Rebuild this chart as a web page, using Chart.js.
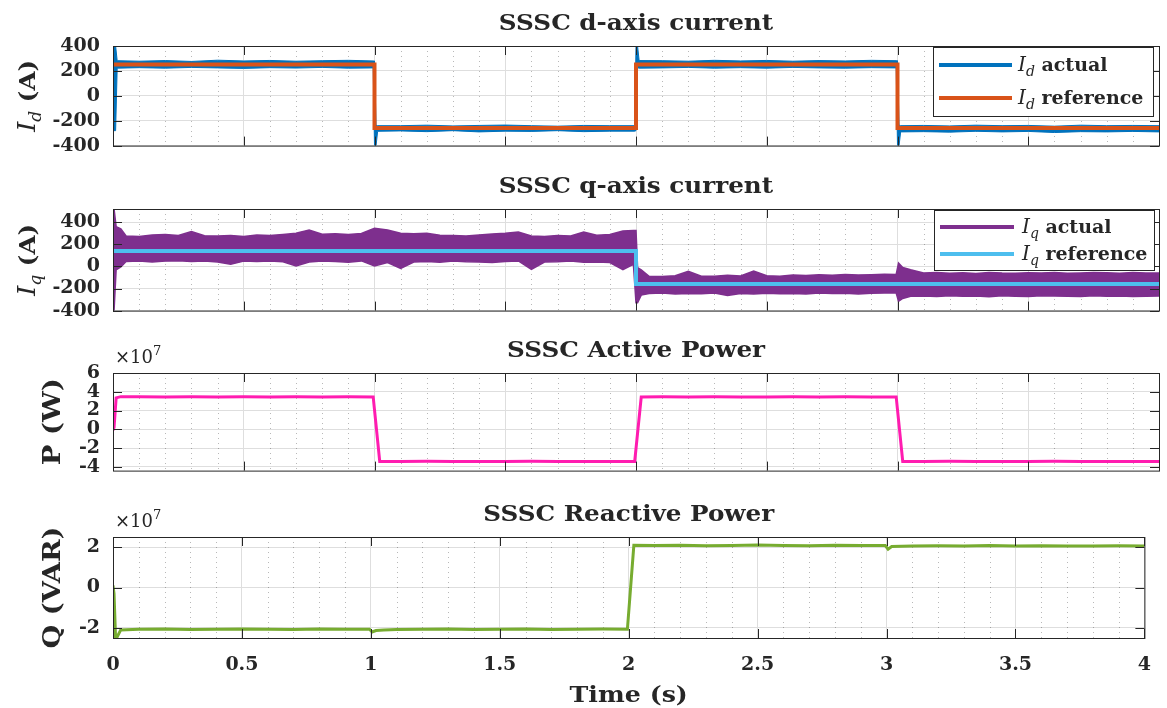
<!DOCTYPE html>
<html>
<head>
<meta charset="utf-8">
<title>SSSC currents and power</title>
<script src="https://cdn.jsdelivr.net/npm/chart.js@4.4.1/dist/chart.umd.min.js"></script>
<style>
body { margin: 0; background: #fff; }
#fig { position: relative; width: 1167px; height: 708px; }
#fig canvas { position: absolute; left: 0; }
</style>
</head>
<body>
<div id="fig">
  <canvas id="id_panel" width="1167" height="170" style="top:0px"></canvas>
  <canvas id="iq_panel" width="1167" height="165" style="top:170px"></canvas>
  <canvas id="p_panel" width="1167" height="160" style="top:335px"></canvas>
  <canvas id="q_panel" width="1167" height="213" style="top:495px"></canvas>
</div>
<script>
// time axis (s)
const timeTicks = [0, 0.5, 1, 1.5, 2, 2.5, 3, 3.5, 4]

// ---- d-axis current (A)
const idTicks = [-400, -200, 0, 200, 400]
const idRefT = [0, 1, 1, 2, 2, 3, 3, 4]
const idRefV = [252, 252, -258, -258, 252, 252, -258, -258]
// actual current drawn as upper / lower edge of the noisy trace
const idActT = [0, 0.01, 0.016, 0.1, 0.2, 0.3, 0.4, 0.5, 0.6, 0.7, 0.8, 0.9,
    0.995, 1.0, 1.006, 1.012, 1.1, 1.2, 1.3, 1.4, 1.5, 1.6, 1.7, 1.8, 1.9,
    1.995, 2.0, 2.006, 2.012, 2.1, 2.2, 2.3, 2.4, 2.5, 2.6, 2.7, 2.8, 2.9,
    2.995, 3.0, 3.006, 3.012, 3.1, 3.2, 3.3, 3.4, 3.5, 3.6, 3.7, 3.8, 3.9, 4.0]
const idActHi = [400, 400, 282, 278, 283, 276, 286, 280, 284, 278, 282, 285,
    280, 280, -238, -240, -240, -236, -242, -238, -235, -240, -244, -238, -240,
    -240, 400, 400, 283, 282, 278, 285, 280, 284, 278, 283, 280, 285,
    282, 282, -236, -240, -238, -242, -236, -240, -238, -244, -236, -240, -238, -240]
const idActLo = [-280, -280, 222, 226, 222, 228, 224, 220, 226, 223, 228, 222,
    224, -400, -400, -285, -282, -288, -280, -290, -284, -286, -280, -288, -284,
    -284, -280, 226, 222, 224, 228, 222, 226, 222, 228, 224, 222, 226,
    224, -400, -400, -290, -288, -292, -285, -290, -286, -295, -288, -290, -286, -290]

// ---- q-axis current (A)
const iqTicks = [-400, -200, 0, 200, 400]
const iqRefT = [0, 2, 2, 4]
const iqRefV = [140, 140, -160, -160]
const iqActT = [0, 0.004, 0.012, 0.03,
    0.05, 0.1, 0.15, 0.2, 0.25, 0.3, 0.35, 0.4, 0.45, 0.5, 0.55, 0.6, 0.65, 0.7, 0.75, 0.8, 0.85, 0.9, 0.95,
    1.0, 1.05, 1.1, 1.15, 1.2, 1.25, 1.3, 1.35, 1.4, 1.45, 1.5, 1.55, 1.6, 1.65, 1.7, 1.75, 1.8, 1.85, 1.9, 1.95,
    1.99, 2.0, 2.006, 2.02,
    2.05, 2.1, 2.15, 2.2, 2.25, 2.3, 2.35, 2.4, 2.45, 2.5, 2.55, 2.6, 2.65, 2.7, 2.75, 2.8, 2.85, 2.9, 2.95,
    2.995, 3.004, 3.02,
    3.05, 3.1, 3.15, 3.2, 3.25, 3.3, 3.35, 3.4, 3.45, 3.5, 3.55, 3.6, 3.65, 3.7, 3.75, 3.8, 3.85, 3.9, 3.95, 4.0]
const iqActHi = [520, 520, 360, 340,
    275, 270, 285, 290, 280, 315, 278, 275, 280, 272, 285, 280, 290, 300, 330, 292, 295, 290, 298,
    345, 330, 300, 295, 300, 282, 280, 276, 285, 294, 300, 312, 275, 272, 280, 276, 312, 282, 290, 320,
    325, 325, -10, -30,
    -90, -92, -85, -45, -88, -90, -80, -86, -42, -85, -90, -78, -82, -75, -80, -72, -78, -75, -70,
    -72, 30, -10,
    -30, -60, -55, -62, -58, -65, -55, -60, -62, -58, -60, -55, -62, -60, -56, -58, -62, -55, -60, -60]
const iqActLo = [-400, -400, -30, -5,
    45, 50, 40, 48, 52, 45, 50, 40, 20, 48, 45, 50, 42, 5, 40, 48, 45, 38, 50,
    5, 35, -18, 40, 45, 38, 50, 42, 40, 35, 45, 50, -26, 40, 42, 48, 38, 40, 35, -30,
    20, -330, -330, -260,
    -245, -240, -250, -245, -248, -240, -263, -245, -250, -242, -248, -245, -250, -240, -246, -244, -250, -242, -240,
    -240, -315, -290,
    -270, -268, -272, -265, -270, -268, -275, -266, -270, -272, -265, -268, -270, -272, -266, -270, -268, -272, -270, -268]

// ---- active power, in units of 1e7 W
const pTicks = [-4, -2, 0, 2, 4, 6]
const pT = [0, 0.004, 0.012, 0.03, 0.1, 0.2, 0.3, 0.4, 0.5, 0.6, 0.7, 0.8, 0.9,
    0.995, 1.02, 1.1, 1.2, 1.3, 1.4, 1.5, 1.6, 1.7, 1.8, 1.9,
    1.995, 2.02, 2.1, 2.2, 2.3, 2.4, 2.5, 2.6, 2.7, 2.8, 2.9,
    2.995, 3.02, 3.1, 3.2, 3.3, 3.4, 3.5, 3.6, 3.7, 3.8, 3.9, 4.0]
const pV = [-0.1, 0.2, 3.35, 3.48, 3.47, 3.44, 3.46, 3.45, 3.47, 3.44, 3.46, 3.45, 3.47,
    3.45, -3.42, -3.43, -3.41, -3.44, -3.42, -3.43, -3.41, -3.44, -3.42, -3.43,
    -3.42, 3.44, 3.46, 3.44, 3.47, 3.45, 3.44, 3.46, 3.45, 3.47, 3.44,
    3.45, -3.42, -3.43, -3.41, -3.44, -3.42, -3.43, -3.41, -3.44, -3.42, -3.43, -3.42]

// ---- reactive power, in units of 1e7 VAR
const qTicks = [-2, 0, 2]
const qT = [0, 0.004, 0.01, 0.016, 0.03, 0.1, 0.2, 0.3, 0.4, 0.5, 0.6, 0.7, 0.8, 0.9,
    0.995, 1.005, 1.02, 1.05, 1.1, 1.2, 1.3, 1.4, 1.5, 1.6, 1.7, 1.8, 1.9,
    1.995, 2.02, 2.1, 2.2, 2.3, 2.4, 2.5, 2.6, 2.7, 2.8, 2.9,
    2.995, 3.006, 3.02, 3.1, 3.2, 3.3, 3.4, 3.5, 3.6, 3.7, 3.8, 3.9, 4.0]
const qV = [0.1, -0.3, -2.5, -2.45, -2.1, -2.07, -2.06, -2.08, -2.07, -2.05, -2.07, -2.08, -2.06, -2.07,
    -2.07, -2.2, -2.13, -2.1, -2.08, -2.07, -2.06, -2.08, -2.07, -2.06, -2.08, -2.07, -2.06,
    -2.07, 2.09, 2.08, 2.09, 2.07, 2.08, 2.1, 2.08, 2.07, 2.09, 2.08,
    2.08, 1.9, 2.03, 2.06, 2.07, 2.06, 2.08, 2.06, 2.07, 2.05, 2.06, 2.07, 2.06]

// styles
const SERIF = '"DejaVu Serif", "Liberation Serif", serif'
const TEXT_COLOR = '#262626'
const AXIS_COLOR = '#262626'
const GRID_COLOR = '#dedede'
const MINOR_COLOR = 'rgba(0,0,0,0.28)'
const TICK_LEN = 9
const TICK_FONT = { family: SERIF, size: 19, weight: 'bold' }
// the original uses a wide LaTeX font, so custom text is stretched a little
const TITLE_STRETCH = 1.12

function pts(ts, vs) {
    return ts.map(function(t, i) { return { x: t, y: vs[i] } })
}

// sub-scripted math label like I_d
function mathParts(sym, sub, rest, size) {
    return [
        { text: sym, font: 'italic ' + size + 'px ' + SERIF },
        { text: sub, font: 'italic ' + Math.round(size * 0.68) + 'px ' + SERIF, dy: Math.round(size * 0.25) },
        { text: rest, font: 'bold ' + (size - 1) + 'px ' + SERIF }
    ]
}

function partsWidth(ctx, parts) {
    var w = 0
    parts.forEach(function(p) { ctx.font = p.font; w += ctx.measureText(p.text).width })
    return w
}

function drawParts(ctx, parts, x, y, align) {
    var w = partsWidth(ctx, parts)
    var cx = align === 'center' ? x - w / 2 : x
    ctx.textAlign = 'left'
    ctx.textBaseline = 'alphabetic'
    parts.forEach(function(p) {
        ctx.font = p.font
        ctx.fillText(p.text, cx, y + (p.dy || 0))
        cx += ctx.measureText(p.text).width
    })
}

// draws parts centred at (x, y) and stretched along the text direction
function drawStretched(ctx, parts, x, y, sx) {
    ctx.save()
    ctx.translate(x, y)
    ctx.scale(sx, 1)
    drawParts(ctx, parts, 0, 0, 'center')
    ctx.restore()
}

// per canvas decorations (titles, labels, legend)
const DECO = {}

const panelFrame = {
    id: 'panelFrame',
    beforeDatasetsDraw(chart) {
        // dotted minor grid every 0.1 s
        const ctx = chart.ctx, a = chart.chartArea, x = chart.scales.x
        ctx.save()
        ctx.strokeStyle = MINOR_COLOR
        ctx.lineWidth = 1
        ctx.setLineDash([1, 4])
        for (var k = 1; k < 40; k++) {
            if (k % 5 === 0) continue
            var px = Math.round(x.getPixelForValue(k / 10)) + 0.5
            ctx.beginPath()
            ctx.moveTo(px, a.top)
            ctx.lineTo(px, a.bottom)
            ctx.stroke()
        }
        ctx.restore()
    },
    afterDatasetsDraw(chart) {
        // box with inward ticks on all sides
        const ctx = chart.ctx, a = chart.chartArea
        const d = DECO[chart.canvas.id]
        ctx.save()
        ctx.strokeStyle = AXIS_COLOR
        ctx.lineWidth = 1
        ctx.strokeRect(a.left + 0.5, a.top + 0.5, a.right - a.left, a.bottom - a.top)
        ctx.beginPath()
        timeTicks.forEach(function(v) {
            var px = Math.round(chart.scales.x.getPixelForValue(v)) + 0.5
            ctx.moveTo(px, a.bottom); ctx.lineTo(px, a.bottom - TICK_LEN)
            ctx.moveTo(px, a.top); ctx.lineTo(px, a.top + TICK_LEN)
        })
        d.yTicks.forEach(function(v) {
            var py = Math.round(chart.scales.y.getPixelForValue(v)) + 0.5
            ctx.moveTo(a.left, py); ctx.lineTo(a.left + TICK_LEN, py)
            ctx.moveTo(a.right, py); ctx.lineTo(a.right - TICK_LEN, py)
        })
        ctx.stroke()
        ctx.restore()
    },
    afterDraw(chart) {
        const ctx = chart.ctx, a = chart.chartArea
        const d = DECO[chart.canvas.id]
        const midX = (a.left + a.right) / 2
        ctx.save()
        ctx.fillStyle = TEXT_COLOR
        // title
        drawStretched(ctx, [{ text: d.title, font: 'bold 22px ' + SERIF }], midX, a.top - 16, TITLE_STRETCH)
        // y label, rotated and stretched to its length in the original
        ctx.save()
        ctx.translate(d.ylabelX, (a.top + a.bottom) / 2)
        ctx.rotate(-Math.PI / 2)
        drawStretched(ctx, d.ylabel, 0, 8, d.ylabelLen / partsWidth(ctx, d.ylabel))
        ctx.restore()
        // exponent above the axis
        if (d.exponent) {
            drawParts(ctx, [
                { text: '\u00d710', font: '18px ' + SERIF },
                { text: '7', font: '13px ' + SERIF, dy: -8 }
            ], a.left + 2, a.top - 10, 'left')
        }
        if (d.xlabel) {
            drawStretched(ctx, [{ text: d.xlabel, font: 'bold 23px ' + SERIF }], midX, a.bottom + 64, 1.1)
        }
        if (d.legend) {
            const lg = d.legend
            ctx.fillStyle = '#fff'
            ctx.fillRect(lg.x, lg.y, lg.w, lg.h)
            ctx.strokeStyle = AXIS_COLOR
            ctx.lineWidth = 1
            ctx.strokeRect(lg.x + 0.5, lg.y + 0.5, lg.w, lg.h)
            lg.items.forEach(function(item) {
                ctx.strokeStyle = item.color
                ctx.lineWidth = 4
                ctx.beginPath()
                ctx.moveTo(lg.lineX0, item.y)
                ctx.lineTo(lg.lineX1, item.y)
                ctx.stroke()
                ctx.fillStyle = TEXT_COLOR
                drawParts(ctx, item.parts, lg.textX, item.y + 6, 'left')
            })
        }
        ctx.restore()
    }
}

function makePanel(canvasId, p) {
    DECO[canvasId] = p.deco
    p.deco.yTicks = p.yTicks
    return new Chart(document.getElementById(canvasId), {
        type: 'line',
        data: { datasets: p.datasets },
        plugins: [panelFrame],
        options: {
            responsive: false,
            animation: false,
            events: [],
            layout: { autoPadding: false, padding: { left: 0, right: 8, top: p.plotTop, bottom: 0 } },
            elements: { point: { radius: 0 }, line: { tension: 0 } },
            scales: {
                x: {
                    type: 'linear', min: 0, max: 4,
                    afterBuildTicks: function(s) { s.ticks = timeTicks.map(function(v) { return { value: v } }) },
                    afterFit: function(s) { s.height = p.xHeight },
                    grid: { color: GRID_COLOR, drawTicks: false },
                    border: { display: false },
                    ticks: {
                        display: !!p.showX, autoSkip: false, maxRotation: 0, padding: 16,
                        color: TEXT_COLOR, font: TICK_FONT,
                        callback: function(v) { return String(v) }
                    }
                },
                y: {
                    type: 'linear', min: p.yMin, max: p.yMax,
                    afterBuildTicks: function(s) { s.ticks = p.yTicks.map(function(v) { return { value: v } }) },
                    afterFit: function(s) { s.width = 113 },
                    grid: { color: GRID_COLOR, drawTicks: false },
                    border: { display: false },
                    ticks: {
                        autoSkip: false, padding: 13, color: TEXT_COLOR, font: TICK_FONT,
                        callback: function(v) { return String(v) }
                    }
                }
            },
            plugins: { legend: { display: false }, tooltip: { enabled: false } }
        }
    })
}

// noisy trace as a filled band between its upper and lower edge
function bandSets(t, hi, lo, color, width) {
    return [
        { data: pts(t, hi), borderColor: color, backgroundColor: color, borderWidth: width, fill: '+1', order: 1, clip: 0 },
        { data: pts(t, lo), borderColor: color, borderWidth: width, fill: false, order: 1, clip: 0 }
    ]
}

makePanel('id_panel', {
    plotTop: 46, xHeight: 22, yMin: -400, yMax: 400, yTicks: idTicks,
    datasets: [
        { data: pts(idRefT, idRefV), borderColor: '#D95319', borderWidth: 4, order: 0, clip: 0 }
    ].concat(bandSets(idActT, idActHi, idActLo, '#0072BD', 1)),
    deco: {
        title: 'SSSC d-axis current',
        ylabel: mathParts('I', 'd', ' (A)', 24), ylabelX: 27, ylabelLen: 72,
        legend: {
            x: 933, y: 47, w: 220, h: 69, lineX0: 939, lineX1: 1012, textX: 1018,
            items: [
                { y: 65, color: '#0072BD', parts: mathParts('I', 'd', ' actual', 20) },
                { y: 98, color: '#D95319', parts: mathParts('I', 'd', ' reference', 20) }
            ]
        }
    }
})

makePanel('iq_panel', {
    plotTop: 39, xHeight: 24, yMin: -400, yMax: 520, yTicks: iqTicks,
    datasets: [
        { data: pts(iqRefT, iqRefV), borderColor: '#4DBEEE', borderWidth: 4, order: 0, clip: 0 }
    ].concat(bandSets(iqActT, iqActHi, iqActLo, '#7E2F8E', 1.5)),
    deco: {
        title: 'SSSC q-axis current',
        ylabel: mathParts('I', 'q', ' (A)', 24), ylabelX: 27, ylabelLen: 72,
        legend: {
            x: 934, y: 40, w: 220, h: 60, lineX0: 940, lineX1: 1014, textX: 1022,
            items: [
                { y: 57, color: '#7E2F8E', parts: mathParts('I', 'q', ' actual', 20) },
                { y: 84, color: '#4DBEEE', parts: mathParts('I', 'q', ' reference', 20) }
            ]
        }
    }
})

makePanel('p_panel', {
    plotTop: 38, xHeight: 19, yMin: -4.4, yMax: 6, yTicks: pTicks,
    datasets: [
        { data: pts(pT, pV), borderColor: '#FF1CB0', borderWidth: 3, clip: 0 }
    ],
    deco: {
        title: 'SSSC Active Power',
        ylabel: [{ text: 'P (W)', font: 'bold 24px ' + SERIF }], ylabelX: 52, ylabelLen: 87,
        exponent: true
    }
})

makePanel('q_panel', {
    plotTop: 42, xHeight: 70, yMin: -2.5, yMax: 2.5, yTicks: qTicks, showX: true,
    datasets: [
        { data: pts(qT, qV), borderColor: '#77AC30', borderWidth: 3, clip: 0 }
    ],
    deco: {
        title: 'SSSC Reactive Power',
        ylabel: [{ text: 'Q (VAR)', font: 'bold 24px ' + SERIF }], ylabelX: 52, ylabelLen: 122,
        exponent: true, xlabel: 'Time (s)'
    }
})
</script>
</body>
</html>
